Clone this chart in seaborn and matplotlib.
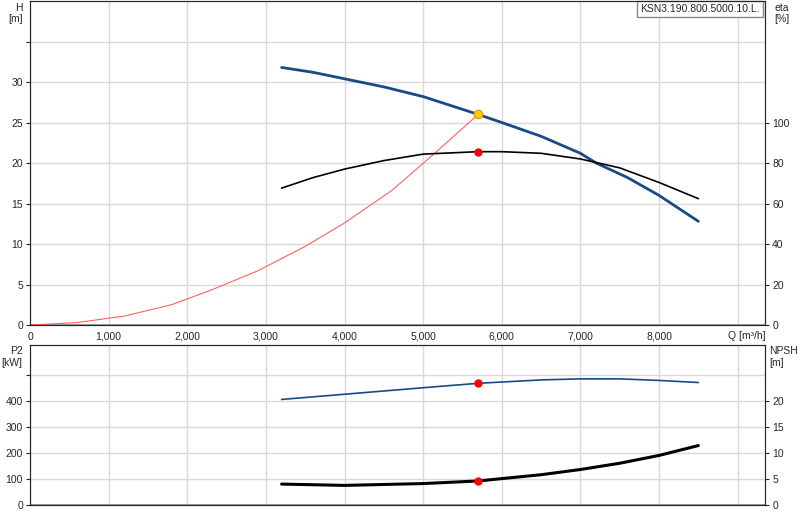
import matplotlib
matplotlib.use('Agg')
import matplotlib.pyplot as plt
import matplotlib.ticker as mticker
import seaborn as sns

sns.set_style('white')
plt.rcParams['font.family'] = ['Liberation Sans', 'DejaVu Sans']
plt.rcParams['font.size'] = 7.5

# pump curve H [m]
q_h = [3200, 3600, 4000, 4500, 5000, 5700, 6000, 6500, 7000, 7200, 7600, 8000, 8500]
h_vals = [31.8, 31.2, 30.4, 29.4, 28.2, 26.0, 25.0, 23.3, 21.2, 20.0, 18.2, 16.0, 12.8]
# efficiency [%]
q_eta = [3200, 3600, 4000, 4500, 5000, 5700, 6000, 6500, 7000, 7500, 8000, 8500]
eta_vals = [67.6, 72.8, 77.0, 81.2, 84.4, 85.6, 85.6, 84.8, 82.0, 77.6, 70.4, 62.4]
# system curve H [m]
q_sys = [0, 600, 1200, 1800, 2300, 2900, 3500, 4000, 4600, 5100, 5700]
h_sys = [0, 0.3, 1.1, 2.5, 4.3, 6.7, 9.7, 12.6, 16.6, 20.8, 26.0]
# power P2 [kW]
q_p = [3200, 4000, 5000, 5700, 6500, 7000, 7500, 8000, 8500]
p2_vals = [405, 425, 450, 467, 480, 484, 484, 478, 470]
# NPSH [m]
q_n = [3200, 4000, 5000, 5700, 6500, 7000, 7500, 8000, 8500]
npsh_vals = [4.0, 3.75, 4.1, 4.6, 5.8, 6.8, 8.0, 9.5, 11.4]
duty_q = 5700
duty_h = 26.0
duty_eta = 85.6
duty_p2 = 467
duty_npsh = 4.6

blue = '#184a86'
grid_c = '#d9d9d9'

fig = plt.figure(figsize=(8, 5.2), dpi=100)
ax1 = fig.add_axes([0.0375, 0.375, 0.919, 0.623])
ax2 = fig.add_axes([0.0375, 0.029, 0.919, 0.308])


def style(ax, ymax, step):
    ax.set_xlim(0, 9350)
    ax.set_ylim(0, ymax)
    ax.xaxis.set_major_locator(mticker.MultipleLocator(1000))
    ax.yaxis.set_major_locator(mticker.MultipleLocator(step))
    ax.grid(True, color=grid_c, lw=1)
    ax.axhline(0, color='#999999', lw=2, zorder=1)
    for s in ax.spines.values():
        s.set_color('#555555')
    ax.tick_params(length=3, pad=2, labelsize=7.5)


style(ax1, 40, 5)
ax1.set_xticks(range(0, 10000, 1000))
ax1.set_xticklabels(['{:,}'.format(v) for v in range(0, 9000, 1000)] + [''])
ax1.set_yticks(range(0, 40, 5))
ax1.set_yticklabels([str(v) for v in range(0, 35, 5)] + [''])

sns.lineplot(x=q_sys, y=h_sys, ax=ax1, color='#ff6060', lw=0.8)
sns.lineplot(x=q_h, y=h_vals, ax=ax1, color=blue, lw=2)
ax1e = ax1.twinx()
ax1e.set_ylim(0, 160)
ax1e.set_yticks([0, 20, 40, 60, 80, 100])
ax1e.tick_params(length=3, pad=2, labelsize=7.5)
sns.lineplot(x=q_eta, y=eta_vals, ax=ax1e, color='black', lw=1.2)
ax1e.plot([duty_q], [duty_eta], 'o', color='red', ms=5)
ax1e.plot([duty_q], [duty_h * 4], 'o', color='#ffd000', mec='#f0a000', ms=6)
ax1e.set_ylabel('')
ax1.text(-0.01, 0.995, 'H\n[m]', transform=ax1.transAxes, ha='right', va='top', fontsize=7.5)
ax1.text(1.012, 0.995, 'eta\n[%]', transform=ax1.transAxes, ha='left', va='top', fontsize=7.5)
ax1.text(1.0, -0.02, 'Q [m³/h]', transform=ax1.transAxes, ha='right', va='top', fontsize=7.5)
ax1.text(0.993, 0.99, 'KSN3.190.800.5000.10.L.', transform=ax1.transAxes, ha='right', va='top',
         fontsize=7.5, bbox=dict(facecolor='white', edgecolor='#888888', boxstyle='square,pad=0.3'))

style(ax2, 615, 100)
ax2.set_xticks(range(0, 10000, 1000))
ax2.set_xticklabels([])
ax2.set_yticks(range(0, 600, 100))
ax2.set_yticklabels([str(v) for v in range(0, 500, 100)] + [''])
sns.lineplot(x=q_p, y=p2_vals, ax=ax2, color=blue, lw=1.2)
ax2.plot([duty_q], [duty_p2], 'o', color='red', ms=5)
ax2n = ax2.twinx()
ax2n.set_ylim(0, 30.75)
ax2n.set_yticks([0, 5, 10, 15, 20])
ax2n.tick_params(length=3, pad=2, labelsize=7.5)
sns.lineplot(x=q_n, y=npsh_vals, ax=ax2n, color='black', lw=2.2)
ax2n.plot([duty_q], [duty_npsh], 'o', color='red', ms=5)
ax2n.set_ylabel('')
ax2.text(-0.01, 0.99, 'P2\n[kW]', transform=ax2.transAxes, ha='right', va='top', fontsize=7.5)
ax2.text(1.005, 0.99, 'NPSH\n[m]', transform=ax2.transAxes, ha='left', va='top', fontsize=7.5)

fig.savefig('out.png', dpi=100)
